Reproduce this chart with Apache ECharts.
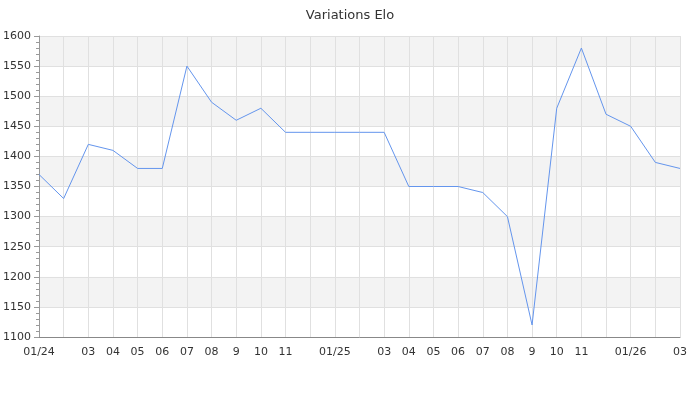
<!DOCTYPE html>
<html>
<head>
<meta charset="utf-8">
<script src="https://cdn.jsdelivr.net/npm/echarts@6/dist/echarts.min.js"></script>
<style>html,body{margin:0;padding:0;background:#fff}#c{width:700px;height:400px}</style>
</head>
<body>
<div id="c"></div>
<script>
const months = ["2024-01","2024-02","2024-03","2024-04","2024-05","2024-06","2024-07","2024-08","2024-09","2024-10","2024-11","2024-12",
  "2025-01","2025-02","2025-03","2025-04","2025-05","2025-06","2025-07","2025-08","2025-09","2025-10","2025-11","2025-12",
  "2026-01","2026-02","2026-03"];
const tickLabels = ["01/24","","03","04","05","06","07","08","9","10","11","",
  "01/25","","03","04","05","06","07","08","9","10","11","",
  "01/26","","03"];
const elo = [1370,1330,1420,1410,1380,1380,1550,1490,1460,1480,1440,1440,
  1440,1440,1440,1350,1350,1350,1340,1300,1120,1480,1580,1470,
  1450,1390,1380];

const chart = echarts.init(document.getElementById('c'), null, {renderer:'canvas'});
chart.setOption({
  animation:false,
  title:{text:'Variations Elo',left:'center',top:4,textStyle:{fontFamily:'DejaVu Sans',fontSize:13,fontWeight:'normal',color:'#333'}},
  grid:{left:39,right:20,top:36,bottom:63,containLabel:false},
  xAxis:{
    type:'category',data:months,boundaryGap:false,
    axisLine:{lineStyle:{color:'#888',width:1}},
    axisTick:{show:false},
    axisLabel:{interval:0,color:'#333',fontFamily:'DejaVu Sans',fontSize:11,margin:10,
      formatter:(v,i)=>tickLabels[i]},
    splitLine:{show:true,lineStyle:{color:'#e0e0e0',width:1}}
  },
  yAxis:{
    type:'value',min:1100,max:1600,interval:50,
    axisLine:{show:true,lineStyle:{color:'#999',width:1}},
    axisTick:{show:true,length:5,lineStyle:{color:'#999'}},
    minorTick:{show:true,splitNumber:5,length:3,lineStyle:{color:'#999'}},
    axisLabel:{color:'#333',fontFamily:'DejaVu Sans',fontSize:11,margin:8,formatter:v=>String(v)},
    splitLine:{show:true,lineStyle:{color:'#e0e0e0',width:1}},
    splitArea:{show:true,areaStyle:{color:['#ffffff','#f3f3f3']}}
  },
  series:[{
    type:'line',data:elo,showSymbol:false,symbol:'none',
    lineStyle:{color:'#6495ed',width:1},itemStyle:{color:'#6495ed'}
  }]
});
</script>
</body>
</html>
